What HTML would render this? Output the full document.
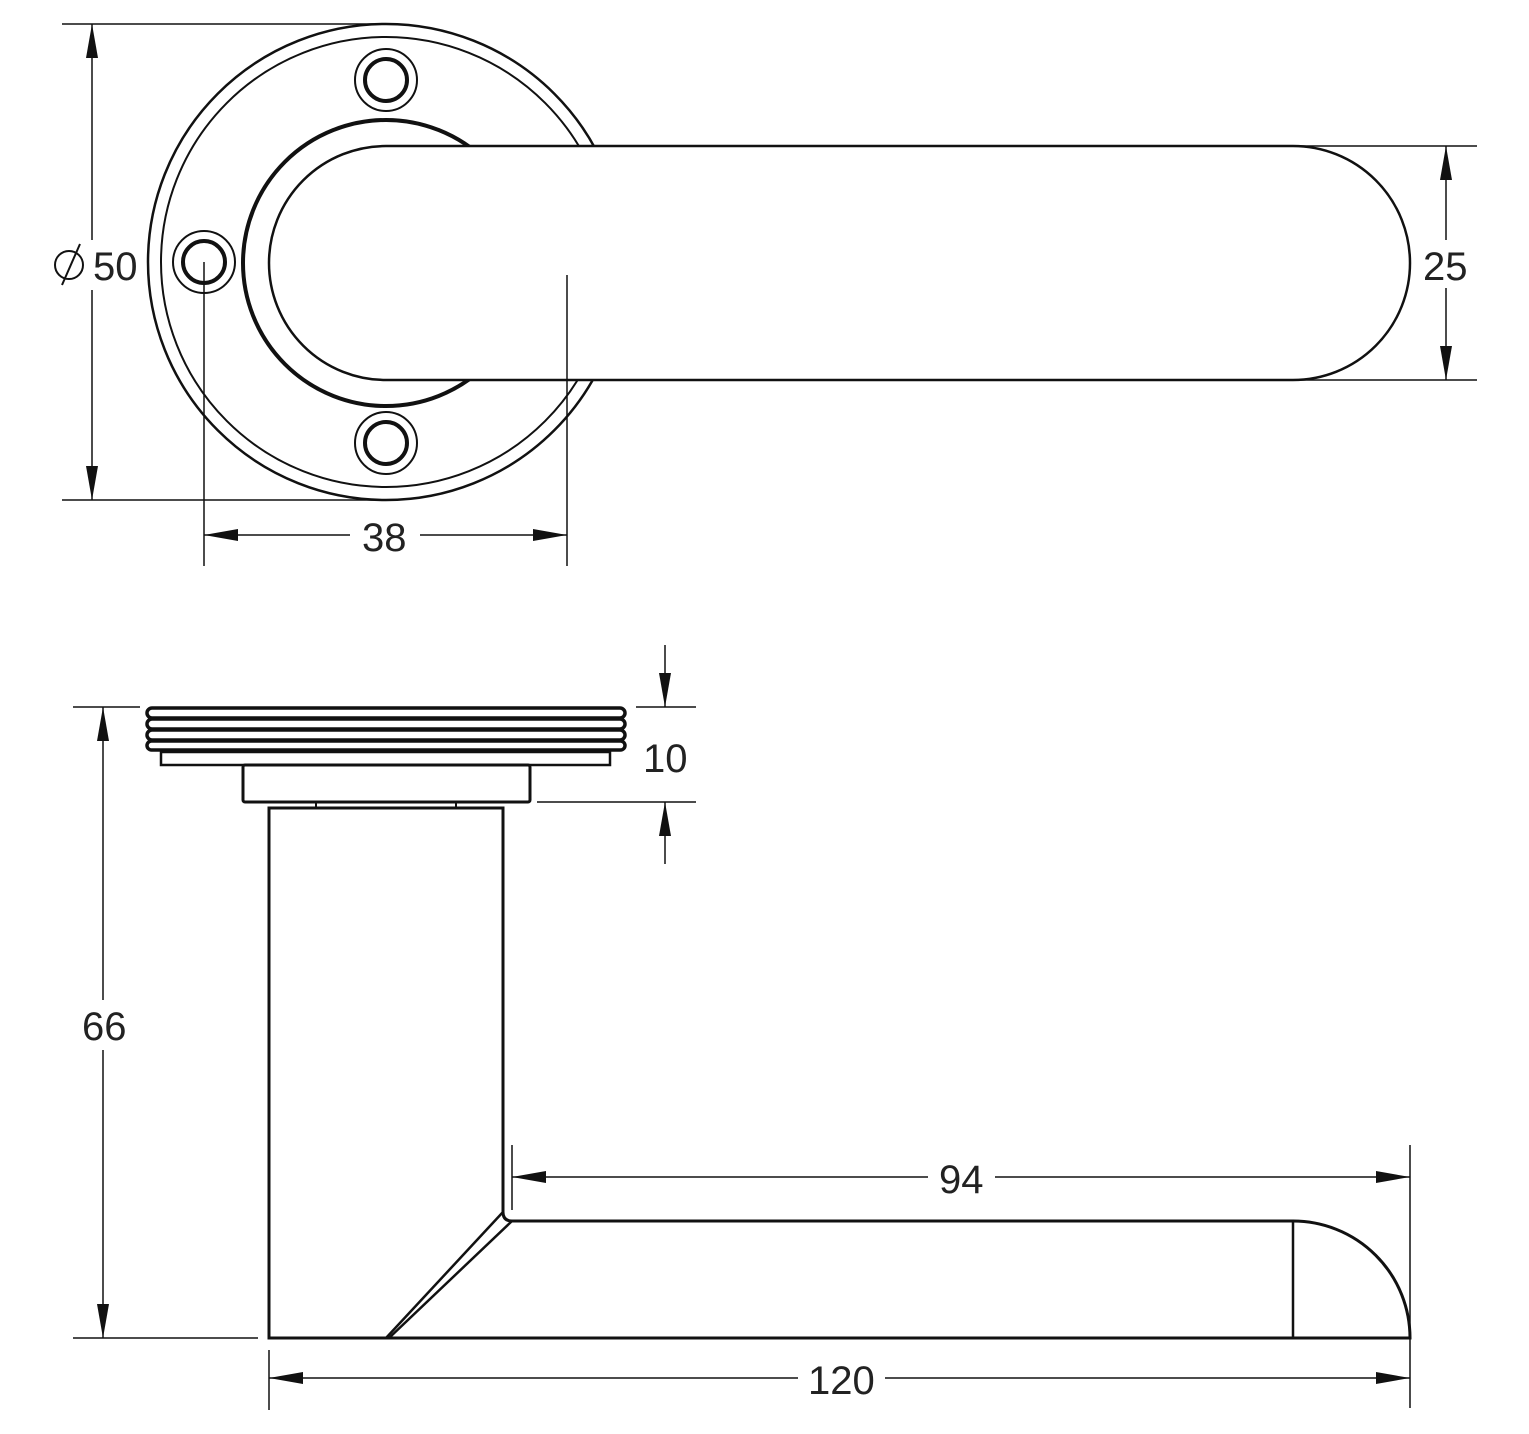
<!DOCTYPE html>
<html><head><meta charset="utf-8"><style>
html,body{margin:0;padding:0;background:#fff}
svg{display:block}
text{font-family:"Liberation Sans","DejaVu Sans",sans-serif;font-size:40px;fill:#222}
</style></head><body>
<svg width="1529" height="1434" viewBox="0 0 1529 1434" xmlns="http://www.w3.org/2000/svg">
<defs>
<marker id="a" viewBox="0 0 34 12" refX="34" refY="6" markerWidth="34" markerHeight="12" markerUnits="userSpaceOnUse" orient="auto">
<path d="M0,0 L34,6 L0,12 Z" fill="#111"/>
</marker>
</defs>
<g fill="none" stroke="#111">
<!-- top view rose -->
<circle cx="386" cy="262" r="238" stroke-width="2.5"/>
<circle cx="386" cy="262" r="225" stroke-width="2"/>
<circle cx="386" cy="263" r="143" stroke-width="4"/>
<!-- holes -->
<g stroke-width="2"><circle cx="386" cy="80" r="31"/><circle cx="204" cy="262" r="31"/><circle cx="386" cy="443" r="31"/></g>
<g stroke-width="4"><circle cx="386" cy="80" r="21"/><circle cx="204" cy="262" r="21"/><circle cx="386" cy="443" r="21"/></g>
<!-- handle -->
<path d="M386,146 L1293,146 A117,117 0 0 1 1293,380 L386,380 A117,117 0 0 1 386,146 Z" fill="#fff" stroke-width="2.5"/>
<!-- dims top -->
<g stroke-width="1.5">
<line x1="62" y1="24" x2="386" y2="24"/>
<line x1="62" y1="500" x2="386" y2="500"/>
<line x1="92" y1="240" x2="92" y2="24" marker-end="url(#a)"/>
<line x1="92" y1="290" x2="92" y2="500" marker-end="url(#a)"/>
<line x1="204" y1="262" x2="204" y2="566"/>
<line x1="567" y1="275" x2="567" y2="566"/>
<line x1="350" y1="535" x2="204" y2="535" marker-end="url(#a)"/>
<line x1="420" y1="535" x2="567" y2="535" marker-end="url(#a)"/>
<line x1="1300" y1="146" x2="1477" y2="146"/>
<line x1="1300" y1="380" x2="1477" y2="380"/>
<line x1="1446" y1="240" x2="1446" y2="146" marker-end="url(#a)"/>
<line x1="1446" y1="288" x2="1446" y2="380" marker-end="url(#a)"/>
</g>
<!-- side view plate threads -->
<g stroke-width="3.5">
<rect x="147" y="708" width="478" height="10" rx="5"/>
<rect x="147" y="719" width="478" height="10" rx="5"/>
<rect x="147" y="730" width="478" height="10" rx="5"/>
<rect x="147" y="741" width="478" height="9" rx="4.5"/>
</g>
<rect x="161" y="752" width="449" height="13" stroke-width="2.5"/>
<rect x="243" y="765" width="287" height="37" rx="2" stroke-width="3"/>
<line x1="316" y1="802" x2="316" y2="808" stroke-width="2"/>
<line x1="456" y1="802" x2="456" y2="808" stroke-width="2"/>
<!-- stem + lever -->
<path d="M269,1338 L269,808 L503,808 L503,1212 Q503,1221 512,1221 L1293,1221 A117,117 0 0 1 1410,1338 Z" stroke-width="3"/>
<line x1="1293" y1="1221" x2="1293" y2="1338" stroke-width="2.5"/>
<line x1="503" y1="1212" x2="386" y2="1338" stroke-width="2.5"/>
<line x1="512" y1="1221" x2="389" y2="1338" stroke-width="2.5"/>
<!-- side dims -->
<g stroke-width="1.5">
<line x1="73" y1="707" x2="140" y2="707"/>
<line x1="73" y1="1338" x2="258" y2="1338"/>
<line x1="103" y1="1000" x2="103" y2="707" marker-end="url(#a)"/>
<line x1="103" y1="1050" x2="103" y2="1338" marker-end="url(#a)"/>
<line x1="636" y1="707" x2="696" y2="707"/>
<line x1="537" y1="802" x2="696" y2="802"/>
<line x1="665" y1="645" x2="665" y2="707" marker-end="url(#a)"/>
<line x1="665" y1="864" x2="665" y2="802" marker-end="url(#a)"/>
<line x1="512" y1="1145" x2="512" y2="1210"/>
<line x1="1410" y1="1145" x2="1410" y2="1408"/>
<line x1="928" y1="1177" x2="512" y2="1177" marker-end="url(#a)"/>
<line x1="995" y1="1177" x2="1410" y2="1177" marker-end="url(#a)"/>
<line x1="269" y1="1350" x2="269" y2="1410"/>
<line x1="798" y1="1378" x2="269" y2="1378" marker-end="url(#a)"/>
<line x1="885" y1="1378" x2="1410" y2="1378" marker-end="url(#a)"/>
</g>
<!-- diameter symbol -->
<circle cx="69" cy="265" r="14" stroke-width="2"/>
<line x1="62" y1="285" x2="80" y2="244" stroke-width="2"/>
</g>
<text x="93" y="280">50</text>
<text x="362" y="551">38</text>
<text x="1423" y="280">25</text>
<text x="643" y="772">10</text>
<text x="82" y="1040">66</text>
<text x="939" y="1193">94</text>
<text x="808" y="1394">120</text>
</svg>
</body></html>
